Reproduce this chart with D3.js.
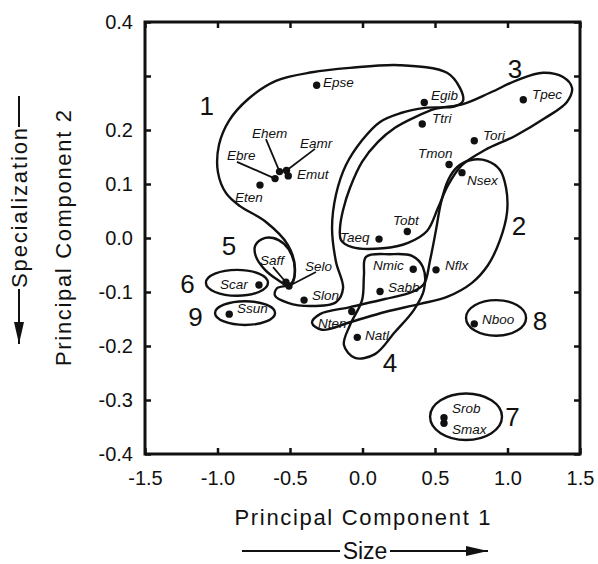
<!DOCTYPE html>
<html><head><meta charset="utf-8">
<script src="https://cdn.jsdelivr.net/npm/d3@7"></script>
<style>
body{margin:0;background:#fff}
svg{display:block}
text{font-family:"Liberation Sans",Arial,Helvetica,sans-serif;fill:#111}
</style>
</head><body>
<svg id="chart" width="598" height="564"></svg>
<script>
// ---- data ----
const species = ["Epse","Egib","Ttri","Tpec","Tori","Tmon","Nsex","Ebre","Ehem","Eamr","Emut","Eten","Tobt","Taeq","Nmic","Nflx","Sabb","Nten","Natl","Slon","Saff","Selo","Scar","Ssun","Nboo","Srob","Smax"];
const pc1 = [-0.316,0.426,0.412,1.109,0.771,0.597,0.686,-0.603,-0.572,-0.524,-0.512,-0.707,0.309,0.114,0.350,0.507,0.121,-0.074,-0.036,-0.403,-0.528,-0.507,-0.714,-0.919,0.771,0.562,0.562];
const pc2 = [0.283,0.251,0.211,0.256,0.180,0.136,0.121,0.110,0.123,0.125,0.115,0.098,0.012,-0.002,-0.058,-0.059,-0.099,-0.136,-0.184,-0.115,-0.082,-0.089,-0.087,-0.141,-0.159,-0.333,-0.343];
// label anchors (data units)
const labelX = [-0.272,0.472,0.479,1.169,0.831,0.383,0.721,-0.934,-0.762,-0.431,-0.452,-0.879,0.210,-0.155,0.072,0.569,0.176,-0.307,0.017,-0.348,-0.707,-0.397,-0.983,-0.866,0.824,0.617,0.617];
const labelY = [0.280,0.256,0.213,0.257,0.181,0.148,0.098,0.144,0.185,0.167,0.109,0.067,0.024,-0.007,-0.059,-0.059,-0.100,-0.167,-0.189,-0.115,-0.050,-0.061,-0.094,-0.139,-0.159,-0.324,-0.363];
// leader lines: species with start point (data units)
const leaderNames = ["Ebre","Ehem","Eamr","Saff","Selo"];
const leaderX = [-0.866,-0.666,-0.328,-0.617,-0.321];
const leaderY = [0.141,0.183,0.165,-0.054,-0.063];
// group numbers
const groupNames = ["1","3","2","5","6","9","8","4","7"];
const groupX = [-1.074,1.052,1.079,-0.921,-1.207,-1.152,1.224,0.190,1.034];
const groupY = [0.228,0.296,0.006,-0.031,-0.102,-0.163,-0.170,-0.248,-0.348];
// hand-drawn group outlines (data units)
const outline1 = [[-0.493,-0.085],[-0.466,-0.056],[-0.514,-0.013],[-0.672,0.031],[-0.845,0.059],[-0.941,0.083],[-0.997,0.122],[-0.990,0.172],[-0.921,0.217],[-0.790,0.257],[-0.597,0.291],[-0.348,0.307],[-0.086,0.315],[0.259,0.320],[0.583,0.306],[0.672,0.278],[0.693,0.254],[0.638,0.244],[0.431,0.241],[0.259,0.231],[0.121,0.215],[-0.003,0.181],[-0.114,0.135],[-0.183,0.080],[-0.210,0.019],[-0.183,-0.044],[-0.134,-0.093],[-0.183,-0.119],[-0.362,-0.126],[-0.514,-0.120],[-0.603,-0.107],[-0.590,-0.093]];
const outline3 = [[-0.155,0.019],[-0.148,-0.004],[-0.072,-0.017],[0.141,-0.019],[0.314,-0.009],[0.445,0.013],[0.521,0.056],[0.590,0.098],[0.686,0.135],[0.845,0.163],[1.052,0.189],[1.259,0.222],[1.410,0.252],[1.445,0.278],[1.383,0.298],[1.245,0.306],[1.072,0.293],[0.879,0.269],[0.693,0.248],[0.500,0.239],[0.348,0.222],[0.224,0.204],[0.107,0.178],[-0.003,0.141],[-0.086,0.093],[-0.134,0.052]];
const outline2 = [[0.652,0.131],[0.741,0.144],[0.859,0.143],[0.948,0.126],[0.990,0.093],[0.997,0.048],[0.948,-0.004],[0.866,-0.050],[0.755,-0.083],[0.583,-0.109],[0.397,-0.122],[0.155,-0.137],[-0.086,-0.156],[-0.279,-0.170],[-0.348,-0.157],[-0.293,-0.141],[-0.086,-0.128],[0.155,-0.113],[0.341,-0.100],[0.424,-0.085],[0.466,-0.041],[0.507,0.015],[0.541,0.065],[0.590,0.107]];
const outline4 = [[0.024,-0.035],[0.190,-0.030],[0.341,-0.033],[0.417,-0.054],[0.424,-0.096],[0.355,-0.133],[0.224,-0.174],[0.086,-0.215],[-0.052,-0.222],[-0.128,-0.198],[-0.086,-0.161],[-0.003,-0.115],[0.010,-0.069]];
const outline5 = [[-0.507,-0.089],[-0.583,-0.078],[-0.672,-0.059],[-0.734,-0.035],[-0.741,-0.015],[-0.693,-0.002],[-0.617,0.000],[-0.541,-0.011],[-0.486,-0.033],[-0.466,-0.059],[-0.479,-0.081]];
// elliptical outlines: centre and radii (data units)
const ellCX = [-0.866,-0.810,0.921,0.714];
const ellCY = [-0.083,-0.139,-0.148,-0.331];
const ellRX = [0.214,0.207,0.207,0.248];
const ellRY = [0.024,0.022,0.033,0.043];
// ticks
const xTicks = [-1.5,-1.0,-0.5,0.0,0.5,1.0,1.5];
const yTicks = [-0.4,-0.3,-0.2,-0.1,0.0,0.1,0.2,0.3,0.4];
const yTickLabels = ["-0.4","-0.3","-0.2","-0.1","0.0","0.1","0.2","","0.4"];

// ---- drawing ----
const svg = d3.select("#chart");
const x = d3.scaleLinear().domain([-1.5,1.5]).range([145,580]);
const y = d3.scaleLinear().domain([-0.4,0.4]).range([454,22]);
const X0 = x.range()[0], X1 = x.range()[1], Y0 = y.range()[0], Y1 = y.range()[1];

const tickLen = 6;
const styleAxis = g => {
  g.select(".domain").remove();
  g.selectAll(".tick line").attr("stroke","#111").attr("stroke-width",2.5);
  g.selectAll(".tick text").attr("font-size",20).attr("fill","#111").attr("font-family",'"Liberation Sans",Arial,sans-serif');
};
svg.append("g").attr("transform",`translate(0,${Y0})`)
  .call(d3.axisBottom(x).tickValues(xTicks).tickSize(-tickLen).tickSizeOuter(0).tickPadding(17).tickFormat(d=>d.toFixed(1)))
  .call(styleAxis);
svg.append("g").attr("transform",`translate(0,${Y1})`)
  .call(d3.axisTop(x).tickValues(xTicks).tickSize(-tickLen).tickSizeOuter(0).tickFormat(""))
  .call(styleAxis);
svg.append("g").attr("transform",`translate(${X0},0)`)
  .call(d3.axisLeft(y).tickValues(yTicks).tickSize(-tickLen).tickSizeOuter(0).tickPadding(12).tickFormat((d,i)=>yTickLabels[i]))
  .call(styleAxis);
svg.append("g").attr("transform",`translate(${X1},0)`)
  .call(d3.axisRight(y).tickValues(yTicks).tickSize(-tickLen).tickSizeOuter(0).tickFormat(""))
  .call(styleAxis);
svg.append("rect").attr("x",X0).attr("y",Y1).attr("width",X1-X0).attr("height",Y0-Y1)
  .attr("fill","none").attr("stroke","#111").attr("stroke-width",3);

// outlines
const line = d3.line().x(d=>x(d[0])).y(d=>y(d[1])).curve(d3.curveCatmullRomClosed.alpha(0.5));
const outlines = [outline1,outline2,outline3,outline4,outline5];
svg.append("g").selectAll("path").data(outlines).join("path")
  .attr("d",line).attr("fill","none").attr("stroke","#111").attr("stroke-width",2.4);
svg.append("g").selectAll("ellipse").data(ellCX).join("ellipse")
  .attr("cx",(d,i)=>x(ellCX[i])).attr("cy",(d,i)=>y(ellCY[i]))
  .attr("rx",(d,i)=>x(ellCX[i]+ellRX[i])-x(ellCX[i]))
  .attr("ry",(d,i)=>y(ellCY[i])-y(ellCY[i]+ellRY[i]))
  .attr("fill","none").attr("stroke","#111").attr("stroke-width",2.4);

// leader lines
svg.append("g").selectAll("line").data(leaderNames).join("line")
  .attr("x1",(d,i)=>x(leaderX[i])).attr("y1",(d,i)=>y(leaderY[i]))
  .attr("x2",d=>x(pc1[species.indexOf(d)])).attr("y2",d=>y(pc2[species.indexOf(d)]))
  .attr("stroke","#111").attr("stroke-width",1.8);

// points
svg.append("g").selectAll("circle").data(species).join("circle")
  .attr("cx",(d,i)=>x(pc1[i])).attr("cy",(d,i)=>y(pc2[i])).attr("r",3.7).attr("fill","#111");

// species labels
svg.append("g").selectAll("text").data(species).join("text")
  .attr("x",(d,i)=>x(labelX[i])).attr("y",(d,i)=>y(labelY[i]))
  .attr("font-size",13.5).attr("font-style","italic").text(d=>d);

// group numbers
svg.append("g").selectAll("text").data(groupNames).join("text")
  .attr("x",(d,i)=>x(groupX[i])).attr("y",(d,i)=>y(groupY[i]))
  .attr("text-anchor","middle").attr("font-size",26).text(d=>d);

// axis titles
svg.append("text").attr("x",(X0+X1)/2).attr("y",525).attr("text-anchor","middle")
  .attr("font-size",22).attr("textLength",256).attr("lengthAdjust","spacing").text("Principal Component 1");
svg.append("text").attr("transform",`translate(71,${(Y0+Y1)/2}) rotate(-90)`).attr("text-anchor","middle")
  .attr("font-size",22).attr("textLength",256).attr("lengthAdjust","spacing").text("Principal Component 2");

// arrows
const defs = svg.append("defs");
defs.append("marker").attr("id","ah").attr("viewBox","0 0 22 10").attr("refX",22).attr("refY",5)
  .attr("markerWidth",22).attr("markerHeight",10).attr("markerUnits","userSpaceOnUse").attr("orient","auto")
  .append("path").attr("d","M0,0L22,5L0,10Z").attr("fill","#111");

// Size arrow
svg.append("text").attr("x",365).attr("y",559).attr("text-anchor","middle").attr("font-size",23).text("Size");
svg.append("line").attr("x1",242).attr("x2",340).attr("y1",551).attr("y2",551).attr("stroke","#111").attr("stroke-width",2);
svg.append("line").attr("x1",390).attr("x2",488).attr("y1",551).attr("y2",551).attr("stroke","#111").attr("stroke-width",2).attr("marker-end","url(#ah)");

// Specialization arrow (vertical)
svg.append("text").attr("transform",`translate(27,208) rotate(-90)`).attr("text-anchor","middle")
  .attr("font-size",22).attr("textLength",160).attr("lengthAdjust","spacing").text("Specialization");
svg.append("line").attr("x1",19).attr("x2",19).attr("y1",96).attr("y2",127).attr("stroke","#111").attr("stroke-width",2);
svg.append("line").attr("x1",19).attr("x2",19).attr("y1",289).attr("y2",344).attr("stroke","#111").attr("stroke-width",2).attr("marker-end","url(#ah)");
</script>
</body></html>
